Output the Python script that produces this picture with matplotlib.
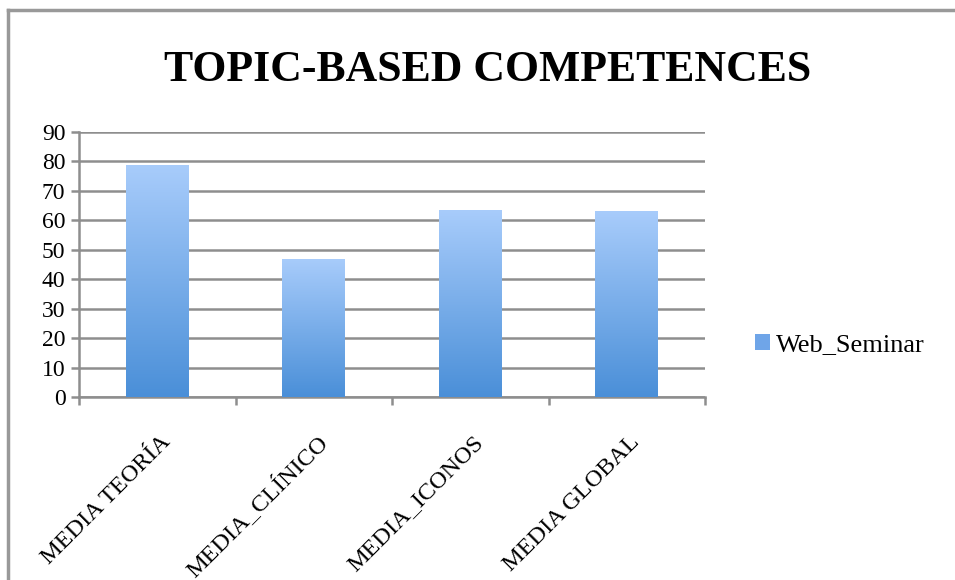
import numpy as np
import matplotlib
matplotlib.use("Agg")
import matplotlib.pyplot as plt
import matplotlib.transforms as mtransforms
from matplotlib.colors import LinearSegmentedColormap
from matplotlib.lines import Line2D
from matplotlib.patches import Patch

categories = ["MEDIA TEORÍA", "MEDIA_CLÍNICO", "MEDIA_ICONOS", "MEDIA GLOBAL"]
values = [78.7, 46.9, 63.4, 63.1]
series_name = "Web_Seminar"
yticks = [0, 10, 20, 30, 40, 50, 60, 70, 80, 90]

plt.rcParams['font.family'] = ['Liberation Serif', 'DejaVu Serif']

W, H = 955, 580
fig = plt.figure(figsize=(W / 100, H / 100), dpi=100)
ax = fig.add_axes([79 / W, 1 - 397 / H, (705 - 79) / W, (397 - 132) / H])

grid_c = "#8e8e8e"
x = np.arange(len(categories))
bars = ax.bar(x, values, width=0.4, color="#6fa5e8", zorder=2)

cmap = LinearSegmentedColormap.from_list("g", ["#4a8fd8", "#a8ccfb"])
grad = np.linspace(0, 1, 256).reshape(-1, 1)
for b in bars:
    x0, y0 = b.get_x(), b.get_y()
    w, h = b.get_width(), b.get_height()
    im = ax.imshow(grad, cmap=cmap, origin="lower", aspect="auto",
                   extent=[x0, x0 + w, y0, y0 + h], zorder=3)
    im.set_clip_path(b)

ax.set_xlim(-0.5, len(categories) - 0.5)
ax.set_ylim(0, 90)
ax.set_yticks(yticks)
ax.set_yticklabels([str(v) for v in yticks], fontsize=17)
ax.yaxis.grid(True, color=grid_c, linewidth=1.8, zorder=1)
ax.set_axisbelow(True)

for s in ["top", "right"]:
    ax.spines[s].set_visible(False)
for s in ["left", "bottom"]:
    ax.spines[s].set_color(grid_c)
    ax.spines[s].set_linewidth(1.8)
ax.tick_params(axis="y", length=8 * 0.72, width=1.8, color=grid_c, pad=4)

ax.set_xticks(x)
ax.set_xticklabels([])
ax.tick_params(axis="x", which="major", length=0)
ax.set_xticks(np.arange(len(categories) + 1) - 0.5, minor=True)
ax.tick_params(axis="x", which="minor", length=8 * 0.72, width=1.8, color=grid_c)

base = mtransforms.blended_transform_factory(ax.transData, ax.transAxes)
off = mtransforms.ScaledTranslation(10 / 100, -42 / 100, fig.dpi_scale_trans)
for i, c in enumerate(categories):
    ax.text(i, 0, c, transform=base + off, rotation=45, rotation_mode="anchor",
            ha="right", va="center", fontsize=17.5)

fig.text(0.5 * (166 + 810) / W, 1 - 70 / H, "TOPIC-BASED COMPETENCES",
         ha="center", va="center", fontsize=31.5, fontweight="bold")

handle = Patch(facecolor="#6fa5e8", edgecolor="none")
fig.legend([handle], [series_name], loc="center left",
           bbox_to_anchor=(755 / W, 1 - 345 / H), frameon=False,
           fontsize=19, handlelength=0.55, handleheight=0.55,
           handletextpad=0.25, borderpad=0, borderaxespad=0)

fig.add_artist(Line2D([8 / W, 8 / W], [0, 1 - 10 / H], color="#999999",
                      linewidth=2.5, transform=fig.transFigure))
fig.add_artist(Line2D([8 / W, 1], [1 - 10 / H, 1 - 10 / H], color="#999999",
                      linewidth=2.5, transform=fig.transFigure))

fig.savefig("out.png", dpi=100)
